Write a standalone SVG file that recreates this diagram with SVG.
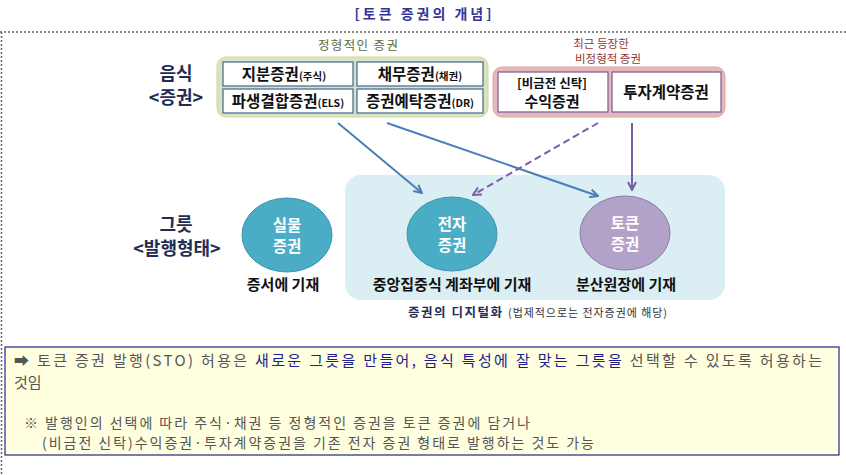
<svg xmlns="http://www.w3.org/2000/svg" width="846" height="475" viewBox="0 0 846 475">
<style>
text{font-family:"Noto Sans CJK KR","Noto Sans",sans-serif}
.b{font-weight:bold}
.ib{fill:#fff;stroke:#4f6f9f;stroke-width:1.3}
.pb{fill:#fff;stroke:#8064a2;stroke-width:1.3}
.lbl{font-size:15.5px;font-weight:bold;fill:#111;text-anchor:middle}
.cap{font-size:15px;font-weight:bold;fill:#111;text-anchor:middle}
.sm{font-size:10.5px}
.cl{font-size:15.5px;font-weight:bold;fill:#fff;text-anchor:middle}
.side{font-size:18px;font-weight:bold;fill:#1f2d55;text-anchor:middle}
.blue{stroke:#4a7ebb;stroke-width:2;fill:none}
.purp{stroke:#7b5ea7;stroke-width:2;fill:none}
.g{fill:#555}
.nv{fill:#1e1e8c}
.red{font-size:11.5px;fill:#953735;text-anchor:middle}
</style>
<defs>
<marker id="ab" viewBox="0 0 10 10" refX="9" refY="5" markerWidth="10" markerHeight="10" markerUnits="userSpaceOnUse" orient="auto"><path d="M1,1 L9,5 L1,9" fill="none" stroke="#4a7ebb" stroke-width="2"/></marker>
<marker id="ap" viewBox="0 0 10 10" refX="9" refY="5" markerWidth="10" markerHeight="10" markerUnits="userSpaceOnUse" orient="auto"><path d="M1,1 L9,5 L1,9" fill="none" stroke="#7b5ea7" stroke-width="2"/></marker>
</defs>
<rect width="846" height="475" fill="#fff"/>
<g id="title"><text x="423" y="19" text-anchor="middle" font-size="14" class="b" fill="#333399" textLength="137" lengthAdjust="spacing">[토큰 증권의 개념]</text></g>
<g id="frame" stroke="#666" stroke-width="1.5" stroke-dasharray="2,2" fill="none"><path d="M0,32 H846"/><path d="M1.5,32 V475"/></g>

<g id="label-food"><text x="176" y="80" class="side">음식</text><text x="176" y="104" class="side">&lt;증권&gt;</text></g>
<g id="label-bowl"><text x="176" y="231" class="side">그릇</text><text x="177" y="255" class="side">&lt;발행형태&gt;</text></g>

<g id="group-standard">
<text x="358" y="50" text-anchor="middle" font-size="12.5" fill="#5a6b3a" textLength="80" lengthAdjust="spacing">정형적인 증권</text>
<rect x="217" y="57" width="271" height="60" rx="9" fill="#d7e4bd" stroke="#c9d9a8" stroke-width="1"/>
</g>
<g id="node-equity"><rect class="ib" x="223" y="62" width="130" height="24"/><text x="284" y="80" class="lbl">지분증권<tspan class="sm">(주식)</tspan></text></g>
<g id="node-debt"><rect class="ib" x="357" y="62" width="126" height="24"/><text x="420" y="80" class="lbl">채무증권<tspan class="sm">(채권)</tspan></text></g>
<g id="node-els"><rect class="ib" x="223" y="89" width="130" height="24"/><text x="288" y="107" class="lbl">파생결합증권<tspan class="sm">(ELS)</tspan></text></g>
<g id="node-dr"><rect class="ib" x="357" y="89" width="126" height="24"/><text x="420" y="107" class="lbl">증권예탁증권<tspan class="sm">(DR)</tspan></text></g>

<g id="group-atypical">
<text x="601" y="48" class="red">최근 등장한</text>
<text x="608" y="63" class="red">비정형적 증권</text>
<rect x="493" y="67" width="232" height="50" rx="9" fill="#e6b9b8" stroke="#dba9a8" stroke-width="1"/>
</g>
<g id="node-trust"><rect class="pb" x="498" y="72" width="110" height="40"/><text x="552" y="88" class="lbl" style="font-size:12.5px">[비금전 신탁]</text><text x="552" y="107" class="lbl" style="font-size:15px">수익증권</text></g>
<g id="node-invest"><rect class="pb" x="612" y="72" width="109" height="40"/><text x="666" y="98" class="lbl">투자계약증권</text></g>

<g id="region-digital">
<rect x="345" y="175" width="380" height="125" rx="16" fill="#daeef3"/>
<text x="408" y="317" font-size="12.5" class="b" fill="#1f2d55" textLength="94" lengthAdjust="spacing">증권의 디지털화</text>
<text x="508" y="317" font-size="11" fill="#333" textLength="159" lengthAdjust="spacing">(법제적으로는 전자증권에 해당)</text>
</g>
<g id="node-physical"><ellipse cx="287" cy="235" rx="45" ry="37" fill="#4bacc6" stroke="#3c94ad" stroke-width="1"/><text x="287" y="231" class="cl">실물</text><text x="287" y="252" class="cl">증권</text><text x="283" y="290" class="cap">증서에 기재</text></g>
<g id="node-electronic"><ellipse cx="452" cy="234" rx="45" ry="37" fill="#4bacc6" stroke="#3c94ad" stroke-width="1"/><text x="452" y="230" class="cl">전자</text><text x="452" y="251" class="cl">증권</text><text x="452" y="290" class="cap">중앙집중식 계좌부에 기재</text></g>
<g id="node-token"><ellipse cx="625" cy="233" rx="45" ry="37" fill="#b3a2c7" stroke="#8f7aae" stroke-width="1"/><text x="625" y="229" class="cl">토큰</text><text x="625" y="250" class="cl">증권</text><text x="626" y="290" class="cap">분산원장에 기재</text></g>

<g id="connectors">
<path class="blue" d="M338,123 L422,193" marker-end="url(#ab)"/>
<path class="blue" d="M387,123 L598,196" marker-end="url(#ab)"/>
<path class="purp" d="M598,123 L473,195" stroke-dasharray="7,4" marker-end="url(#ap)"/>
<path class="purp" d="M632,123 L632,190" marker-end="url(#ap)"/>
</g>

<g id="note">
<rect x="5" y="347" width="834" height="108" fill="#ffffe0" stroke="#333399" stroke-width="1.3"/>
<text x="14" y="366" font-size="15" class="g" textLength="808" lengthAdjust="spacing">➡ 토큰 증권 발행(STO) 허용은 <tspan class="nv">새로운 그릇을 만들어, 음식 특성에 잘 맞는 그릇을</tspan> 선택할 수 있도록 허용하는</text>
<text x="14" y="388" font-size="15" class="g">것임</text>
<text x="24" y="428" font-size="14" class="g" textLength="506" lengthAdjust="spacing">※ 발행인의 선택에 따라 주식·채권 등 정형적인 증권을 토큰 증권에 담거나</text>
<text x="42" y="448" font-size="14" class="g" textLength="552" lengthAdjust="spacing">(비금전 신탁)수익증권·투자계약증권을 기존 전자 증권 형태로 발행하는 것도 가능</text>
</g>
</svg>
